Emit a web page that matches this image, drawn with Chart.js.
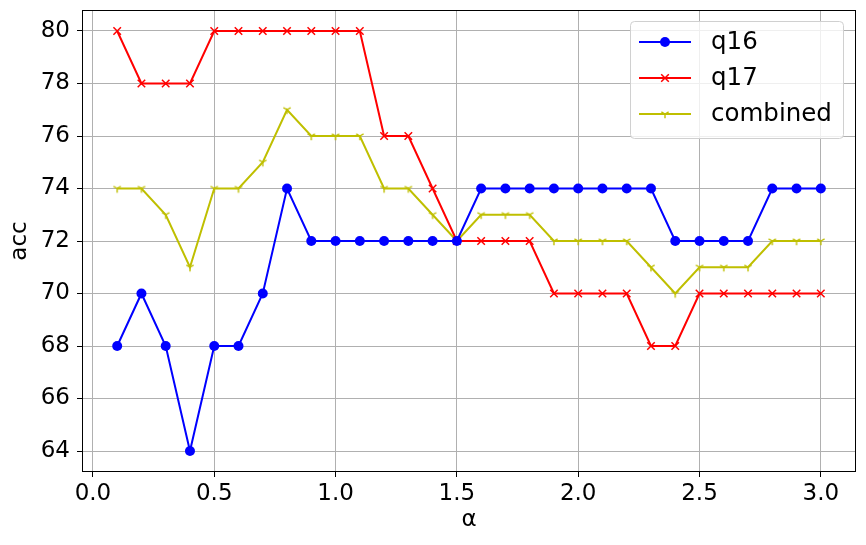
<!DOCTYPE html>
<html>
<head>
<meta charset="utf-8">
<script src="https://cdn.jsdelivr.net/npm/chart.js@4/dist/chart.umd.min.js"></script>
<style>
html,body{margin:0;padding:0;background:#fff;}
#wrap{width:866px;height:545px;}
</style>
</head>
<body>
<div id="wrap"><canvas id="c" width="866" height="545"></canvas></div>
<script>
const alphas = [0.1,0.2,0.3,0.4,0.5,0.6,0.7,0.8,0.9,1.0,1.1,1.2,1.3,1.4,1.5,1.6,1.7,1.8,1.9,2.0,2.1,2.2,2.3,2.4,2.5,2.6,2.7,2.8,2.9,3.0];
const q16 = [68,70,68,64,68,68,70,74,72,72,72,72,72,72,72,74,74,74,74,74,74,74,74,72,72,72,72,74,74,74];
const q17 = [80,78,78,78,80,80,80,80,80,80,80,76,76,74,72,72,72,72,70,70,70,70,68,68,70,70,70,70,70,70];
const combined = [74,74,73,71,74,74,75,77,76,76,76,74,74,73,72,73,73,73,72,72,72,72,71,70,71,71,71,72,72,72];
const seriesNames = ['q16','q17','combined'];
const xTicks = [0.0,0.5,1.0,1.5,2.0,2.5,3.0];
const yTicks = [64,66,68,70,72,74,76,78,80];

const FONT = "'DejaVu Sans', sans-serif";
const FS = 23;
const LFS = 24.5;
const BLUE = '#0000ff', RED = '#ff0000', YEL = '#bfbf00';

function triMarker(color){
  const c = document.createElement('canvas');
  c.width = 12; c.height = 12;
  const g = c.getContext('2d');
  g.strokeStyle = color; g.lineWidth = 1.4; g.lineCap = 'butt';
  const cx = 6, cy = 6, r = 4.2;
  g.beginPath();
  g.moveTo(cx,cy); g.lineTo(cx, cy + r);
  g.moveTo(cx,cy); g.lineTo(cx - r*0.866, cy - r*0.5);
  g.moveTo(cx,cy); g.lineTo(cx + r*0.866, cy - r*0.5);
  g.stroke();
  return c;
}
const tri = triMarker(YEL);

function pts(ys){ return alphas.map((x,i)=>({x:x,y:ys[i]})); }

const frame = {
  id:'frame',
  afterDatasetsDraw(chart){
    const a = chart.chartArea, ctx = chart.ctx;
    ctx.save();
    ctx.strokeStyle = '#000'; ctx.lineWidth = 1;
    ctx.strokeRect(Math.round(a.left)+0.5, Math.round(a.top)+0.5, Math.round(a.right-a.left)-1, Math.round(a.bottom-a.top)-1);
    ctx.restore();
  },
  afterDraw(chart){
    const ctx = chart.ctx;
    const x0 = 630, y0 = 21, w = 213, h = 117;
    ctx.save();
    ctx.beginPath();
    if (ctx.roundRect) ctx.roundRect(x0+0.5,y0+0.5,w,h,4); else ctx.rect(x0+0.5,y0+0.5,w,h);
    ctx.fillStyle = 'rgba(255,255,255,0.8)';
    ctx.fill();
    ctx.strokeStyle = '#d0d0d0'; ctx.lineWidth = 1;
    ctx.stroke();
    const rows = [42,78,114];
    chart.data.datasets.forEach((ds,i)=>{
      const y = rows[i];
      ctx.strokeStyle = ds.borderColor; ctx.lineWidth = 2;
      ctx.beginPath(); ctx.moveTo(639,y); ctx.lineTo(691,y); ctx.stroke();
      const mx = 665;
      if (i===0){
        ctx.fillStyle = BLUE; ctx.beginPath(); ctx.arc(mx,y,5,0,Math.PI*2); ctx.fill();
      } else if (i===1){
        ctx.strokeStyle = RED; ctx.lineWidth = 1.5;
        const r = 3.8;
        ctx.beginPath(); ctx.moveTo(mx-r,y-r); ctx.lineTo(mx+r,y+r); ctx.moveTo(mx-r,y+r); ctx.lineTo(mx+r,y-r); ctx.stroke();
      } else {
        ctx.drawImage(tri, mx-6, y-6);
      }
      ctx.fillStyle = '#000';
      ctx.font = LFS + 'px ' + FONT;
      ctx.textBaseline = 'middle';
      ctx.textAlign = 'left';
      ctx.fillText(ds.label, 711, y+1);
    });
    ctx.restore();
  }
};

new Chart(document.getElementById('c'), {
  type:'line',
  data:{
    datasets:[
      {label:seriesNames[0], data:pts(q16), borderColor:BLUE, backgroundColor:BLUE, borderWidth:2,
       pointStyle:'circle', pointRadius:5, pointBorderWidth:0, pointBackgroundColor:BLUE},
      {label:seriesNames[1], data:pts(q17), borderColor:RED, backgroundColor:RED, borderWidth:2,
       pointStyle:'crossRot', pointRadius:5.3, pointBorderWidth:1.5, pointBorderColor:RED},
      {label:seriesNames[2], data:pts(combined), borderColor:YEL, backgroundColor:YEL, borderWidth:2,
       pointStyle:tri, pointRadius:6}
    ]
  },
  options:{
    responsive:false,
    animation:false,
    events:[],
    layout:{padding:{top:10,right:10,left:0,bottom:0}},
    plugins:{legend:{display:false}, tooltip:{enabled:false}},
    scales:{
      x:{
        type:'linear', min:-0.045, max:3.145,
        afterBuildTicks(s){ s.ticks = xTicks.map(v=>({value:v})); },
        afterFit(s){ s.height = 73; s.paddingLeft = 0; s.paddingRight = 0; },
        ticks:{ callback:v=>Number(v).toFixed(1), color:'#000', font:{family:FONT,size:FS}, padding:3, maxRotation:0 },
        grid:{ color:'#b0b0b0', lineWidth:1, tickColor:'#000', tickLength:5, drawTicks:true },
        border:{ display:false },
        title:{ display:true, text:'α', color:'#000', font:{family:FONT,size:FS}, padding:{top:0,bottom:11} }
      },
      y:{
        type:'linear', min:63.2, max:80.8,
        afterBuildTicks(s){ s.ticks = yTicks.map(v=>({value:v})); },
        afterFit(s){ s.width = 82; s.paddingTop = 0; s.paddingBottom = 0; },
        ticks:{ callback:v=>String(v), color:'#000', font:{family:FONT,size:FS}, padding:7 },
        grid:{ color:'#b0b0b0', lineWidth:1, tickColor:'#000', tickLength:5, drawTicks:true },
        border:{ display:false },
        title:{ display:true, text:'acc', color:'#000', font:{family:FONT,size:FS}, padding:{top:6,bottom:0} }
      }
    }
  },
  plugins:[frame]
});
</script>
</body>
</html>
